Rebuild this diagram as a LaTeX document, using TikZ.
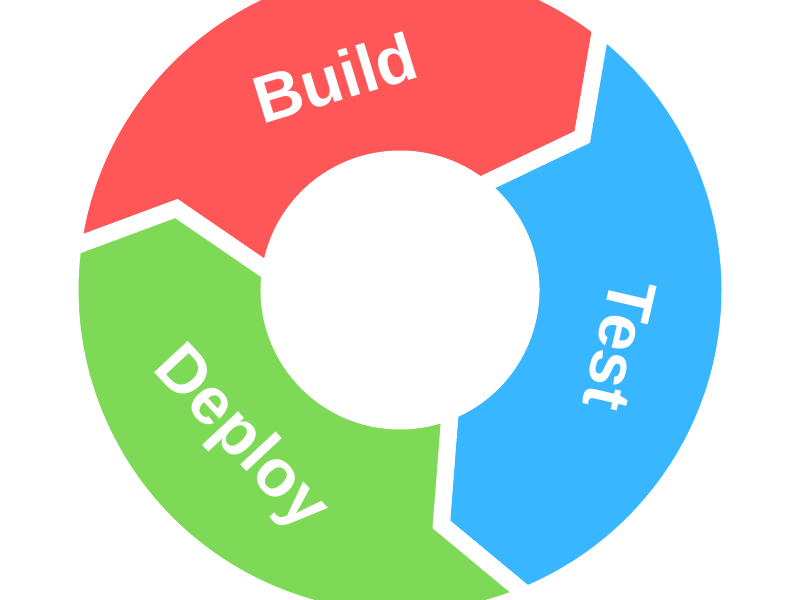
\documentclass[tikz,border=0pt]{standalone}
\usepackage{fontspec}
\setsansfont{Liberation Sans}
\usepackage{tikz}
\usepackage{xcolor}

\definecolor{buildred}{HTML}{FF5757}
\definecolor{testblue}{HTML}{38B6FF}
\definecolor{deploygreen}{HTML}{7ED957}

\begin{document}
\begin{tikzpicture}[scale=0.02,
    stage/.style={draw=white, line width=0.34cm, line join=miter},
    stagetext/.style={text=white, inner sep=0pt, font=\sffamily\bfseries\fontsize{38}{38}\selectfont}]
  \useasboundingbox (-400,-310) rectangle (400,290);
  \clip (-400,-310) rectangle (400,290);

  % ring of three arrows, each pointing clockwise
  \foreach \start/\col in {172.5/buildred, 52.5/testblue, -67.5/deploygreen} {
    \pgfmathsetmacro\stop{\start-120}
    \pgfmathsetmacro\tiphead{\stop-12.5}
    \pgfmathsetmacro\tiptail{\start-12.5}
    \filldraw[stage, fill=\col] (\start:330) arc[start angle=\start, end angle=\stop, radius=330]
      -- (\tiphead:238) -- (\stop:131) arc[start angle=\stop, end angle=\start, radius=131]
      -- (\tiptail:238) -- cycle;
  }

  % labels
  \node[stagetext, rotate=17] (build) at (107:222) {Build};
  \node[stagetext, rotate=-103] (test) at (-14:226) {Test};
  \node[stagetext, rotate=-47] (deploy) at (223:219) {Deploy};
\end{tikzpicture}
\end{document}
